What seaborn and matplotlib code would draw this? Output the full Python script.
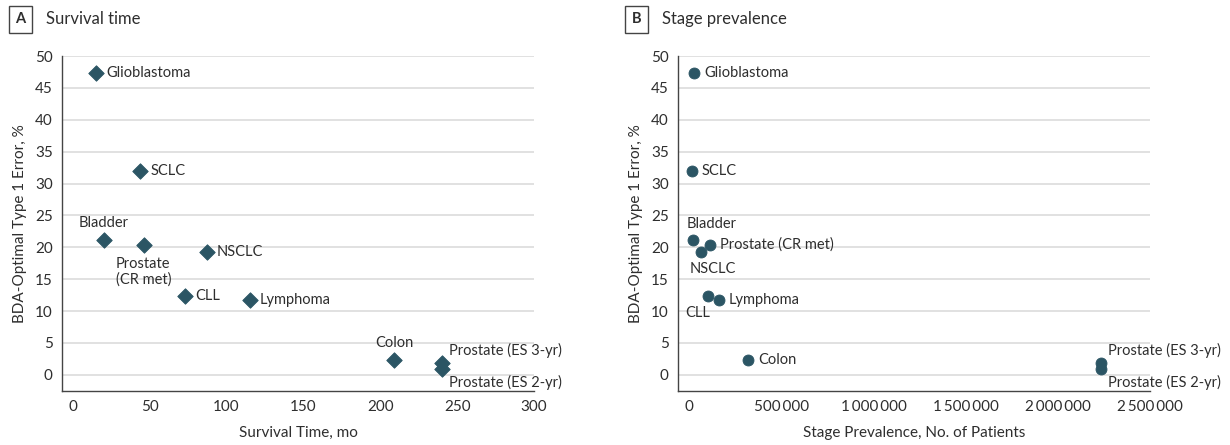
import matplotlib
matplotlib.use("Agg")
import matplotlib.pyplot as plt
import seaborn as sns
import pandas as pd

cancers = ["Glioblastoma", "SCLC", "Bladder", "Prostate (CR met)", "NSCLC",
           "CLL", "Lymphoma", "Colon", "Prostate (ES 3-yr)", "Prostate (ES 2-yr)"]
type1_error = [47.4, 31.9, 21.1, 20.4, 19.2, 12.4, 11.8, 2.3, 1.9, 0.9]
survival_mo = [15, 44, 20, 46, 87, 73, 115, 209, 240, 240]
prevalence = [27000, 16000, 23000, 112000, 63000, 103000, 162000, 320000, 2233000, 2233000]

df = pd.DataFrame({"cancer": cancers, "error": type1_error,
                   "survival": survival_mo, "prevalence": prevalence})

# label text (panel A puts a line break in one name) and offsets in pixels
labels_a = {c: c for c in cancers}
labels_a["Prostate (CR met)"] = "Prostate\n(CR met)"
offsets_a = {
    "Glioblastoma": (10, 0, "left", "center"),
    "SCLC": (10, 0, "left", "center"),
    "Bladder": (0, 17, "center", "center"),
    "Prostate (CR met)": (-28, -27, "left", "center"),
    "NSCLC": (10, 0, "left", "center"),
    "CLL": (10, 0, "left", "center"),
    "Lymphoma": (10, 0, "left", "center"),
    "Colon": (0, 17, "center", "center"),
    "Prostate (ES 3-yr)": (7, 12, "left", "center"),
    "Prostate (ES 2-yr)": (7, -13, "left", "center"),
}
offsets_b = {
    "Glioblastoma": (10, 0, "left", "center"),
    "SCLC": (10, 0, "left", "center"),
    "Bladder": (18, 16, "center", "center"),
    "Prostate (CR met)": (10, 0, "left", "center"),
    "NSCLC": (12, -17, "center", "center"),
    "CLL": (-10, -17, "center", "center"),
    "Lymphoma": (10, 0, "left", "center"),
    "Colon": (10, 0, "left", "center"),
    "Prostate (ES 3-yr)": (7, 12, "left", "center"),
    "Prostate (ES 2-yr)": (7, -13, "left", "center"),
}

sns.set_style("white")
plt.rcParams["font.family"] = ["Lato", "DejaVu Sans"]
fs = 10.5
txt = "#2e2e2e"
mark = "#2b5564"

fig = plt.figure(figsize=(12.3, 4.45), dpi=100)
ax_a = fig.add_axes([0.0507, 0.122, 0.3835, 0.752])
ax_b = fig.add_axes([0.5515, 0.122, 0.3835, 0.752])


def style_axis(ax, xlabel):
    ax.set_ylim(-2.5, 50)
    ax.set_yticks(range(0, 51, 5))
    ax.grid(axis="y", color="#dcdcdc", linewidth=1.2)
    ax.grid(axis="x", visible=False)
    ax.set_axisbelow(True)
    for s in ["top", "right"]:
        ax.spines[s].set_visible(False)
    for s in ["left", "bottom"]:
        ax.spines[s].set_color("#444444")
        ax.spines[s].set_linewidth(1.0)
    ax.tick_params(axis="both", direction="out", length=4, width=1,
                   color="#444444", labelcolor=txt, labelsize=fs + 0.5, pad=3)
    ax.set_ylabel("BDA-Optimal Type 1 Error, %", color=txt, fontsize=fs + 0.5, labelpad=6)
    ax.set_xlabel(xlabel, color=txt, fontsize=fs + 0.5, labelpad=8)


# Panel A: survival time
sns.scatterplot(data=df, x="survival", y="error", marker="D", s=62,
                color=mark, edgecolor=mark, ax=ax_a, zorder=3)
ax_a.set_xlim(-6.8, 300)
ax_a.set_xticks(range(0, 301, 50))
style_axis(ax_a, "Survival Time, mo")
for _, r in df.iterrows():
    dx, dy, ha, va = offsets_a[r["cancer"]]
    ax_a.annotate(labels_a[r["cancer"]], (r["survival"], r["error"]),
                  xytext=(dx, dy), textcoords="offset pixels",
                  ha=ha, va=va, color=txt, fontsize=fs, linespacing=1.1)

# Panel B: stage prevalence
sns.scatterplot(data=df, x="prevalence", y="error", marker="o", s=62,
                color=mark, edgecolor=mark, ax=ax_b, zorder=3)
ax_b.set_xlim(-58000, 2500000)
ax_b.set_xticks(range(0, 2500001, 500000))
ax_b.set_xticklabels(["0", "500\u2009000", "1\u2009000\u2009000", "1\u2009500\u2009000",
                      "2\u2009000\u2009000", "2\u2009500\u2009000"])
style_axis(ax_b, "Stage Prevalence, No. of Patients")
for _, r in df.iterrows():
    dx, dy, ha, va = offsets_b[r["cancer"]]
    ax_b.annotate(r["cancer"], (r["prevalence"], r["error"]),
                  xytext=(dx, dy), textcoords="offset pixels",
                  ha=ha, va=va, color=txt, fontsize=fs)

# panel headers
for x0, letter, title in [(0.0125, "A", "Survival time"), (0.5135, "B", "Stage prevalence")]:
    fig.text(x0, 0.957, letter, fontsize=10.5, fontweight="bold", color=txt,
             ha="left", va="center",
             bbox=dict(boxstyle="square,pad=0.45", fc="white", ec="#444444", lw=1))
    fig.text(x0 + 0.0245, 0.957, title, fontsize=12, color=txt, ha="left", va="center")

fig.savefig("out.png", dpi=100)
